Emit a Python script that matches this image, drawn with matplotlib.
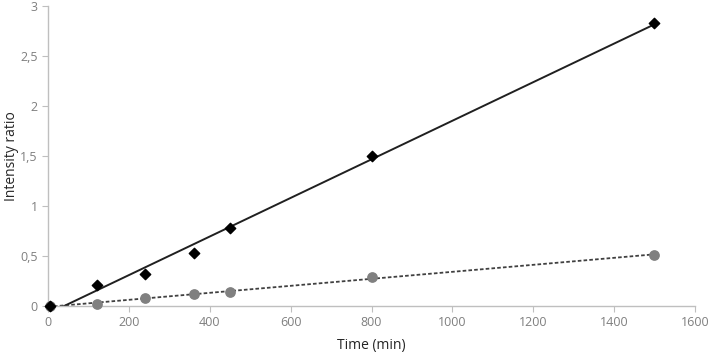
import numpy as np
import matplotlib
matplotlib.use("Agg")
import matplotlib.pyplot as plt
from matplotlib.ticker import FuncFormatter

plt.rcParams['font.family'] = ['Open Sans', 'DejaVu Sans']

time_a = [5, 120, 240, 360, 450, 800, 1500]
ratio_a = [0.0, 0.21, 0.32, 0.53, 0.78, 1.50, 2.83]
time_b = [5, 120, 240, 360, 450, 800, 1500]
ratio_b = [0.0, 0.02, 0.08, 0.12, 0.14, 0.29, 0.51]

fig = plt.figure(figsize=(7.09, 3.55), dpi=100)
ax = fig.add_axes([0.068, 0.138, 0.912, 0.845])

# trendlines (linear fits)
xs = np.array([0, 1500])
ka, ba = np.polyfit(time_a, ratio_a, 1)
kb, bb = np.polyfit(time_b, ratio_b, 1)
ax.plot(xs, kb * xs + bb, color='#404040', lw=1.3, ls=(0, (2, 1.2)), zorder=2)
ax.plot(xs, ka * xs + ba, color='#202020', lw=1.4, zorder=2)

ax.scatter(time_b, ratio_b, marker='o', s=45, color='#808080', zorder=3, clip_on=False)
ax.scatter(time_a, ratio_a, marker='D', s=28, color='black', zorder=4, clip_on=False)

ax.set_xlim(0, 1600)
ax.set_ylim(0, 3)
ax.set_xticks(np.arange(0, 1601, 200))
ax.set_yticks(np.arange(0, 3.01, 0.5))
ax.yaxis.set_major_formatter(FuncFormatter(lambda v, p: ('%g' % v).replace('.', ',')))

for s in ['top', 'right']:
    ax.spines[s].set_visible(False)
for s in ['left', 'bottom']:
    ax.spines[s].set_color('#bfbfbf')
    ax.spines[s].set_linewidth(1.0)
ax.tick_params(colors='#bfbfbf', labelcolor='#7f7f7f', labelsize=9, length=4)

ax.set_xlabel('Time (min)', fontsize=10, color='#262626', labelpad=6)
ax.set_ylabel('Intensity ratio', fontsize=10, color='#262626')
ax.yaxis.set_label_coords(-0.045, 0.5)

fig.savefig('out.png', dpi=100)
